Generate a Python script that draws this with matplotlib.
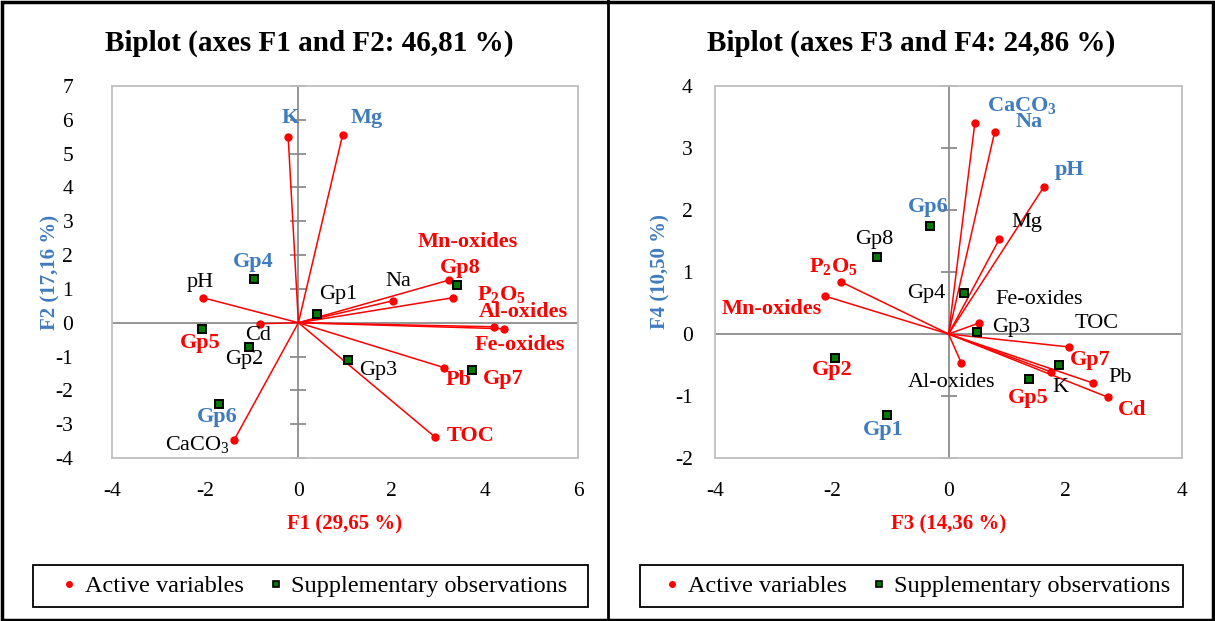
import numpy as np
import matplotlib.pyplot as plt
from matplotlib.lines import Line2D
from matplotlib.patches import Rectangle

plt.rcParams['font.family'] = ['Liberation Serif', 'DejaVu Serif']
plt.rcParams['mathtext.fontset'] = 'custom'
plt.rcParams['mathtext.rm'] = 'Liberation Serif'
plt.rcParams['mathtext.bf'] = 'Liberation Serif:bold'
plt.rcParams['mathtext.default'] = 'rm'
plt.rcParams['axes.unicode_minus'] = False

variables = ['K', 'Mg', 'pH', 'Cd', 'CaCO3', 'Na', 'Mn-oxides', 'P2O5',
             'Al-oxides', 'Fe-oxides', 'Pb', 'TOC']
f1 = [-0.22, 0.95, -2.05, -0.82, -1.38, 2.03, 3.23, 3.32, 4.20, 4.42, 3.13, 2.93]
f2 = [5.50, 5.56, 0.74, -0.03, -3.47, 0.65, 1.26, 0.74, -0.12, -0.18, -1.33, -3.38]
f3 = [1.75, 0.87, 1.63, 2.73, 0.45, 0.79, -2.11, -1.84, 0.22, 0.53, 2.47, 2.07]
f4 = [-0.61, 1.53, 2.37, -1.02, 3.40, 3.26, 0.61, 0.84, -0.47, 0.18, -0.79, -0.21]

# Observations supplementaires
groups = ['Gp1', 'Gp2', 'Gp3', 'Gp4', 'Gp5', 'Gp6', 'Gp7', 'Gp8']
g_f1 = [0.39, -1.06, 1.06, -0.95, -2.07, -1.70, 3.73, 3.40]
g_f2 = [0.26, -0.71, -1.09, 1.30, -0.18, -2.41, -1.41, 1.12]
g_f3 = [-1.05, -1.94, 0.48, 0.26, 1.37, -0.31, 1.89, -1.22]
g_f4 = [-1.31, -0.39, 0.03, 0.66, -0.73, 1.74, -0.50, 1.24]

RED = '#FF0000'
BLUE = '#3F7BBF'
BLK = '#000000'
GRID = '#BFBFBF'
ZERO = '#8C8C8C'

# styles des etiquettes : (couleur, gras, decalage x px, decalage y px)
left_var_style = {
    'K': (BLUE, True, 2, 19), 'Mg': (BLUE, True, 24, 17), 'pH': (BLK, False, -3, 15),
    'Cd': (BLK, False, -2, -12), 'CaCO3': (BLK, False, -37, -4), 'Na': (BLK, False, 5, 19),
    'Mn-oxides': (RED, True, 19, 38), 'P2O5': (RED, True, 48, 3),
    'Al-oxides': (RED, True, 29, 15), 'Fe-oxides': (RED, True, 15, -16),
    'Pb': (RED, True, 14, -12), 'TOC': (RED, True, 36, 1)}
left_grp_style = {
    'Gp1': (BLK, False, 22, 19), 'Gp2': (BLK, False, -5, -13), 'Gp3': (BLK, False, 30, -11),
    'Gp4': (BLUE, True, -1, 17), 'Gp5': (RED, True, -2, -14), 'Gp6': (BLUE, True, -2, -13),
    'Gp7': (RED, True, 31, -9), 'Gp8': (RED, True, 3, 17)}
right_var_style = {
    'K': (BLK, False, 10, -16), 'Mg': (BLK, False, 27, 17), 'pH': (BLUE, True, 26, 17),
    'Cd': (RED, True, 24, -13), 'CaCO3': (BLUE, True, 47, 18), 'Na': (BLUE, True, 35, 10),
    'Mn-oxides': (RED, True, -54, -13), 'P2O5': (RED, True, -8, 15),
    'Al-oxides': (BLK, False, -10, -19), 'Fe-oxides': (BLK, False, 60, 23),
    'Pb': (BLK, False, 27, 5), 'TOC': (BLK, False, 27, 24)}
right_grp_style = {
    'Gp1': (BLUE, True, -4, -15), 'Gp2': (RED, True, -3, -12), 'Gp3': (BLK, False, 35, 5),
    'Gp4': (BLK, False, -37, 0), 'Gp5': (RED, True, 0, -19), 'Gp6': (BLUE, True, -2, 19),
    'Gp7': (RED, True, 31, 5), 'Gp8': (BLK, False, -3, 18)}


def pretty(name, bold):
    if name == 'CaCO3':
        return r'CaCO$_\mathbf{3}$' if bold else r'CaCO$_3$'
    if name == 'P2O5':
        return r'P$_\mathbf{2}$O$_\mathbf{5}$' if bold else r'P$_2$O$_5$'
    return name


def draw_panel(ax, xs, ys, gx, gy, xlim, ylim, xticks, yticks,
               xlabel, ylabel, var_style, grp_style, ypad, ylab_x):
    ax.set_xlim(xlim)
    ax.set_ylim(ylim)
    ax.set_xticks(xticks)
    ax.set_yticks(yticks)
    ax.tick_params(axis='x', length=0, labelsize=15.5, pad=17)
    ax.tick_params(axis='y', length=0, labelsize=15.5, pad=ypad)
    for sp in ax.spines.values():
        sp.set_color(GRID)
        sp.set_linewidth(1.3)
    ax.axhline(0, color=ZERO, lw=1.3, zorder=1)
    x0 = (0 - xlim[0]) / (xlim[1] - xlim[0])
    sec = ax.secondary_yaxis(x0)
    sec.set_yticks(yticks)
    sec.tick_params(direction='inout', length=12, width=1.3, color=ZERO,
                    labelleft=False, labelright=False)
    for sp in sec.spines.values():
        sp.set_color(ZERO)
        sp.set_linewidth(1.3)

    for name, x, y in zip(variables, xs, ys):
        ax.plot([0, x], [0, y], color=RED, lw=1.1, zorder=3)
        ax.plot(x, y, 'o', color=RED, ms=5, zorder=4)
        c, b, dx, dy = var_style[name]
        ax.annotate(pretty(name, b), (x, y), xytext=(dx, dy), textcoords='offset pixels',
                    ha='center', va='center', color=c, fontsize=16,
                    fontweight='bold' if b else 'normal', zorder=5)
    ax.plot(gx, gy, 's', ms=6, mfc='#007A00', mec='black', mew=1.4, ls='none', zorder=4)
    for name, x, y in zip(groups, gx, gy):
        c, b, dx, dy = grp_style[name]
        ax.annotate(name, (x, y), xytext=(dx, dy), textcoords='offset pixels',
                    ha='center', va='center', color=c, fontsize=16,
                    fontweight='bold' if b else 'normal', zorder=5)

    ax.set_xlabel(xlabel, color=RED, fontsize=15, fontweight='bold', labelpad=10)
    ax.set_ylabel(ylabel, color=BLUE, fontsize=15, fontweight='bold')
    ax.yaxis.set_label_coords(ylab_x, 0.5)


fig = plt.figure(figsize=(12.15, 6.21), dpi=100)
ax1 = fig.add_axes([0.0922, 0.2625, 0.3835, 0.599])
ax2 = fig.add_axes([0.5885, 0.2625, 0.3844, 0.599])

draw_panel(ax1, f1, f2, g_f1, g_f2, (-4, 6), (-4, 7), np.arange(-4, 7, 2), np.arange(-4, 8, 1),
           'F1 (29,65 %)', 'F2 (17,16 %)', left_var_style, left_grp_style, 28, -0.11)
draw_panel(ax2, f3, f4, g_f3, g_f4, (-4, 4), (-2, 4), np.arange(-4, 5, 2), np.arange(-2, 5, 1),
           'F3 (14,36 %)', 'F4 (10,50 %)', right_var_style, right_grp_style, 16, -0.095)

fig.text(0.2545, 1 - 43 / 621, 'Biplot (axes F1 and F2: 46,81 %)', ha='center', va='center',
         fontsize=21, fontweight='bold')
fig.text(0.7502, 1 - 43 / 621, 'Biplot (axes F3 and F4: 24,86 %)', ha='center', va='center',
         fontsize=21, fontweight='bold')

# legendes avec cadre noir
handles = [Line2D([], [], marker='o', color=RED, ls='none', ms=4),
           Line2D([], [], marker='s', mfc='#007A00', mec='black', mew=1.2, ls='none', ms=5)]
labels = ['Active variables', 'Supplementary observations']
for ax, box, lx in [(ax1, (33, 555), 62), (ax2, (640, 543), 665)]:
    fig.add_artist(Rectangle((box[0] / 1215, 1 - 607 / 621), box[1] / 1215, 42 / 621,
                             transform=fig.transFigure, fill=False, ec='black', lw=1.3))
    ax.legend(handles, labels, loc='center left', bbox_to_anchor=(lx / 1215, 1 - 586 / 621),
              bbox_transform=fig.transFigure, ncol=2, frameon=False, fontsize=17.5,
              handlelength=0.6, handletextpad=0.35, columnspacing=1.0, borderpad=0,
              borderaxespad=0)

fig.add_artist(Rectangle((0.002, 0.002), 0.996, 0.995, transform=fig.transFigure,
                         fill=False, ec='black', lw=2.5))
fig.add_artist(Line2D([0.5004, 0.5004], [0, 1], transform=fig.transFigure,
                      color='black', lw=2))

fig.savefig('out.png', dpi=100)
